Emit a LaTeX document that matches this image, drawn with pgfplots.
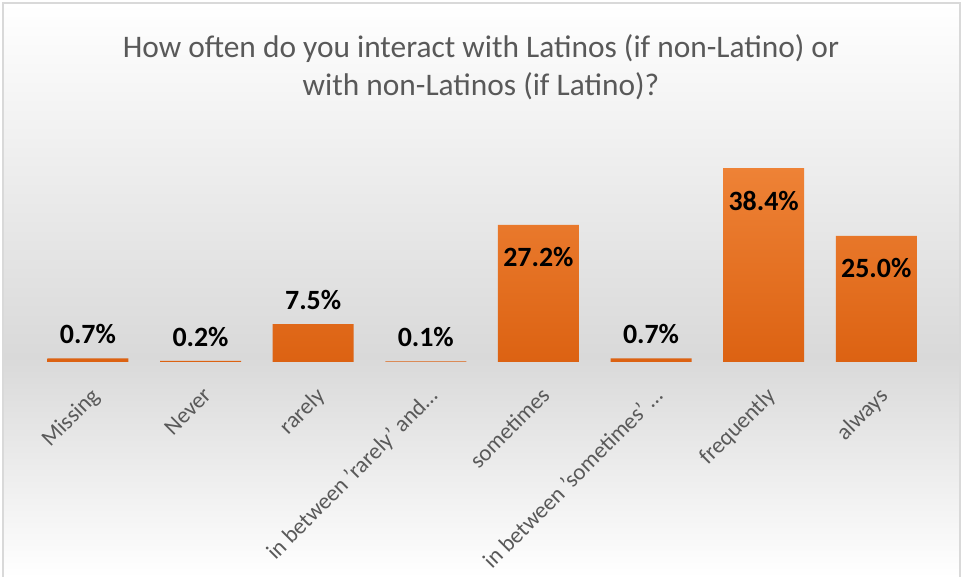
\documentclass[border=0pt]{standalone}
\usepackage{pgfplots}
\pgfplotsset{compat=1.18}
\usepackage{fontspec}
\setmainfont{Carlito}
\definecolor{titlegray}{HTML}{595959}
\definecolor{bandgray}{HTML}{D9D9D9}
\definecolor{bartop}{HTML}{EE8236}
\definecolor{barbot}{HTML}{DC6212}
\definecolor{framegray}{HTML}{D9D9D9}
\begin{document}
\begin{tikzpicture}[x=1bp,y=1bp]
% background
\path[use as bounding box] (0,0) rectangle (962,577);
\shade[top color=white, bottom color=bandgray] (3,574) -- (960,574) -- (960,220) -- (3,220) -- cycle;
\shade[top color=bandgray, bottom color=white] (3,220) rectangle (960,0);
\draw[framegray, line width=1.2bp] (3,-2) -- (3,574) -- (960,574) -- (960,-2);
\node[text=titlegray, font=\fontsize{31.5}{38}\selectfont, align=center] at (481,510)
  {How often do you interact with Latinos (if non-Latino) or\\with non-Latinos (if Latino)?};
\begin{axis}[
  at={(31.6bp,215bp)}, anchor=south west,
  scale only axis, width=901bp, height=222bp,
  xmin=-0.5, xmax=7.5, ymin=0, ymax=44,
  axis line style={draw=none},
  ytick=\empty,
  xtick=data,
  major tick length=0pt,
  /pgf/number format/assume math mode=true,
  xticklabels={Missing,Never,rarely,in between 'rarely' and\dots,sometimes,in between 'sometimes' \dots,frequently,always},
  xticklabel style={rotate=45, anchor=north east, text=titlegray, font=\fontsize{23}{25}\selectfont, inner sep=2bp, yshift=-16bp, xshift=-14bp},
  ybar, bar width=81bp,
  nodes near coords={\pgfmathprintnumber[fixed,fixed zerofill,precision=1,assume math mode=true]{\pgfplotspointmeta}\%},
  visualization depends on=rawy \as \rawy,
  every node near coord/.append style={font=\bfseries\fontsize{28}{30}\selectfont, text=black, anchor=south, yshift={ifthenelse(\rawy>20,-46,11)}},
  clip=false,
]
\addplot[draw=none, top color=bartop, bottom color=barbot] coordinates {
  (0,0.7) (1,0.2) (2,7.5) (3,0.1) (4,27.2) (5,0.7) (6,38.4) (7,25.0)
};
\end{axis}
\end{tikzpicture}
\end{document}
